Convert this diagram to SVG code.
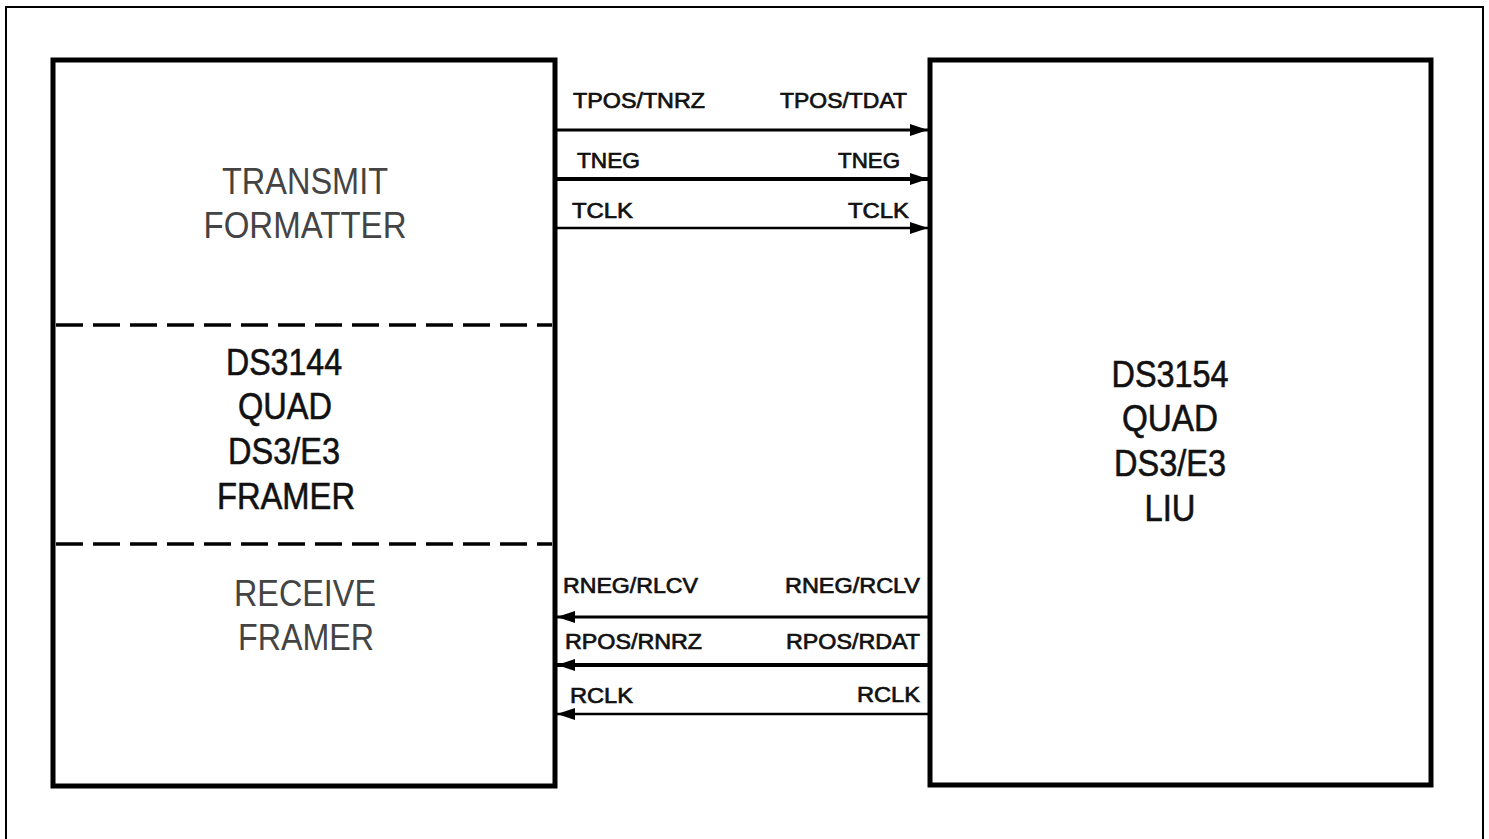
<svg xmlns="http://www.w3.org/2000/svg" width="1489" height="839" viewBox="0 0 1489 839">
<defs>
<style>
.box{fill:#fff;stroke:#000;stroke-width:5}
.dash{stroke:#000;stroke-width:3.5;stroke-dasharray:27 10;fill:none}
.sig{stroke:#000;fill:none}
.big{font-family:"Liberation Sans",Arial,sans-serif;font-size:36px;text-anchor:middle}
.gray{fill:#444}
.dark{fill:#111;stroke:#111;stroke-width:0.6}
.lbl{font-family:"Liberation Sans",Arial,sans-serif;font-size:22px;fill:#111;stroke:#111;stroke-width:0.7}
</style>
<marker id="ah" viewBox="0 0 18 12" refX="18" refY="6" markerWidth="18" markerHeight="12" markerUnits="userSpaceOnUse" orient="auto">
<path d="M0,0 L18,6 L0,12 Z" fill="#000"/>
</marker>
</defs>
<rect x="6" y="7" width="1477" height="850" fill="#fff" stroke="#000" stroke-width="2"/>
<g id="framer">
<rect class="box" x="53" y="60" width="502" height="726"/>
<line class="dash" x1="56" y1="325" x2="552" y2="325"/>
<line class="dash" x1="56" y1="544" x2="552" y2="544"/>
<text class="big gray" x="305" y="194" textLength="166" lengthAdjust="spacingAndGlyphs">TRANSMIT</text>
<text class="big gray" x="305" y="238" textLength="203" lengthAdjust="spacingAndGlyphs">FORMATTER</text>
<text class="big dark" x="284" y="375" textLength="116" lengthAdjust="spacingAndGlyphs">DS3144</text>
<text class="big dark" x="285" y="419" textLength="94" lengthAdjust="spacingAndGlyphs">QUAD</text>
<text class="big dark" x="284" y="464" textLength="112" lengthAdjust="spacingAndGlyphs">DS3/E3</text>
<text class="big dark" x="286" y="509" textLength="138" lengthAdjust="spacingAndGlyphs">FRAMER</text>
<text class="big gray" x="305" y="606" textLength="142" lengthAdjust="spacingAndGlyphs">RECEIVE</text>
<text class="big gray" x="306" y="650" textLength="136" lengthAdjust="spacingAndGlyphs">FRAMER</text>
</g>
<g id="liu">
<rect class="box" x="930" y="60" width="501" height="725"/>
<text class="big dark" x="1170" y="387" textLength="117" lengthAdjust="spacingAndGlyphs">DS3154</text>
<text class="big dark" x="1170" y="431" textLength="96" lengthAdjust="spacingAndGlyphs">QUAD</text>
<text class="big dark" x="1170" y="476" textLength="112" lengthAdjust="spacingAndGlyphs">DS3/E3</text>
<text class="big dark" x="1170" y="521" textLength="51" lengthAdjust="spacingAndGlyphs">LIU</text>
</g>
<g id="connectors">
<line class="sig" x1="557" y1="130" x2="928" y2="130" stroke-width="3" marker-end="url(#ah)"/>
<line class="sig" x1="557" y1="179" x2="928" y2="179" stroke-width="4" marker-end="url(#ah)"/>
<line class="sig" x1="557" y1="228" x2="928" y2="228" stroke-width="2.5" marker-end="url(#ah)"/>
<line class="sig" x1="928" y1="617" x2="557" y2="617" stroke-width="3" marker-end="url(#ah)"/>
<line class="sig" x1="928" y1="665" x2="557" y2="665" stroke-width="4" marker-end="url(#ah)"/>
<line class="sig" x1="928" y1="714" x2="557" y2="714" stroke-width="2.5" marker-end="url(#ah)"/>
</g>
<g id="labels">
<text class="lbl" x="573" y="108" textLength="132" lengthAdjust="spacingAndGlyphs">TPOS/TNRZ</text>
<text class="lbl" x="780" y="108" textLength="127" lengthAdjust="spacingAndGlyphs">TPOS/TDAT</text>
<text class="lbl" x="577" y="168" textLength="63" lengthAdjust="spacingAndGlyphs">TNEG</text>
<text class="lbl" x="838" y="168" textLength="62" lengthAdjust="spacingAndGlyphs">TNEG</text>
<text class="lbl" x="572" y="218" textLength="61" lengthAdjust="spacingAndGlyphs">TCLK</text>
<text class="lbl" x="848" y="218" textLength="61" lengthAdjust="spacingAndGlyphs">TCLK</text>
<text class="lbl" x="563" y="593" textLength="135" lengthAdjust="spacingAndGlyphs">RNEG/RLCV</text>
<text class="lbl" x="785" y="593" textLength="135" lengthAdjust="spacingAndGlyphs">RNEG/RCLV</text>
<text class="lbl" x="565" y="649" textLength="137" lengthAdjust="spacingAndGlyphs">RPOS/RNRZ</text>
<text class="lbl" x="786" y="649" textLength="134" lengthAdjust="spacingAndGlyphs">RPOS/RDAT</text>
<text class="lbl" x="570" y="703" textLength="63" lengthAdjust="spacingAndGlyphs">RCLK</text>
<text class="lbl" x="857" y="702" textLength="63" lengthAdjust="spacingAndGlyphs">RCLK</text>
</g>
</svg>
